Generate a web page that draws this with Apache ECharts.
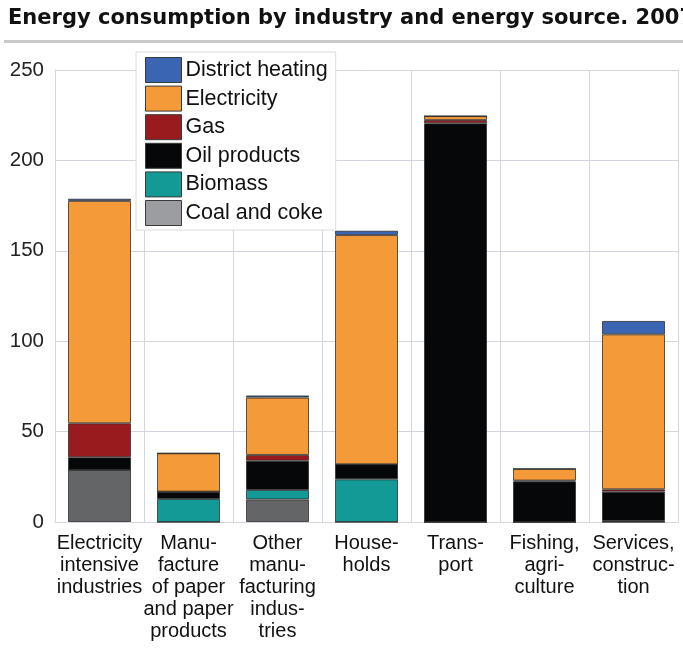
<!DOCTYPE html>
<html>
<head>
<meta charset="utf-8">
<style>
  html, body { margin: 0; padding: 0; background: #fff; }
  #chart { width: 683px; height: 648px; }
</style>
<script src="https://cdn.jsdelivr.net/npm/echarts@6/dist/echarts.min.js"></script>
</head>
<body>
<div id="chart"></div>
<script>
// Energy consumption by industry and energy source, 2007 (stacked, bottom to top)
const categories = [
  'Electricity\nintensive\nindustries',
  'Manu-\nfacture\nof paper\nand paper\nproducts',
  'Other\nmanu-\nfacturing\nindus-\ntries',
  'House-\nholds',
  'Trans-\nport',
  'Fishing,\nagri-\nculture',
  'Services,\nconstruc-\ntion'
];
const coalAndCoke     = [28.8, 0,    12.5, 0,     0,     0,    0];
const biomass         = [0,    12.7, 5.2,  23.6,  0,     0,    0.6];
const oilProducts     = [7.0,  4.1,  16.2, 8.3,   220.5, 22.4, 16.2];
const gas             = [18.8, 0,    3.2,  0,     1.8,   0.5,  1.3];
const electricity     = [123.0, 21.2, 31.7, 126.8, 2.2,  6.5,  85.7];
const districtHeating = [1.2,  0,    1.2,  2.4,   0,     0,    7.4];
const yTicks = [0, 50, 100, 150, 200, 250];

const FONT = '"Liberation Sans", Arial, sans-serif';
const TITLE_FONT = '"DejaVu Sans", "Liberation Sans", Arial, sans-serif';

const seriesDefs = [
  { name: 'Coal and coke',    data: coalAndCoke,     color: '#646567', legendColor: '#9c9da0' },
  { name: 'Biomass',          data: biomass,         color: '#139a97' },
  { name: 'Oil products',     data: oilProducts,     color: '#050708' },
  { name: 'Gas',              data: gas,             color: '#9a1b1e' },
  { name: 'Electricity',      data: electricity,     color: '#f59a38' },
  { name: 'District heating', data: districtHeating, color: '#3a65b3' }
];

const chart = echarts.init(document.getElementById('chart'), null, { renderer: 'canvas' });

chart.setOption({
  animation: false,
  backgroundColor: '#ffffff',
  title: {
    text: 'Energy consumption by industry and energy source. 2007',
    left: 3,
    top: 3,
    textStyle: { fontFamily: TITLE_FONT, fontSize: 21, fontWeight: 'bold', color: '#111' }
  },
  graphic: [{
    type: 'rect',
    left: 4,
    top: 40,
    shape: { width: 679, height: 3 },
    style: { fill: '#c9c9c9' },
    silent: true
  }],
  grid: { left: 55, right: 5, top: 70, bottom: 126, containLabel: false },
  legend: {
    orient: 'vertical',
    left: 136,
    top: 52,
    padding: [5, 8, 4, 9],
    backgroundColor: '#ffffff',
    borderColor: '#dcdcdc',
    borderWidth: 1,
    icon: 'rect',
    itemWidth: 36,
    itemHeight: 25,
    itemGap: 2.6,
    z: 10,
    textStyle: { fontFamily: FONT, fontSize: 21.5, color: '#111', padding: [0, 0, 0, -1] },
    data: seriesDefs.slice().reverse().map(s => ({
      name: s.name,
      itemStyle: { color: s.legendColor || s.color, borderColor: '#3a3a3a', borderWidth: 1 }
    }))
  },
  xAxis: {
    type: 'category',
    data: categories,
    boundaryGap: true,
    axisLine: { show: true, lineStyle: { color: '#d3d6de', width: 1 } },
    axisTick: { show: false },
    splitLine: { show: true, lineStyle: { color: '#d3d6de', width: 1 } },
    axisLabel: {
      interval: 0,
      margin: 10,
      fontFamily: FONT,
      fontSize: 20,
      lineHeight: 22,
      color: '#111',
      align: 'center'
    }
  },
  yAxis: {
    type: 'value',
    min: 0,
    max: yTicks[yTicks.length - 1],
    interval: yTicks[1] - yTicks[0],
    axisLine: { show: true, lineStyle: { color: '#d3d6de', width: 1 } },
    axisTick: { show: false },
    splitLine: { show: true, lineStyle: { color: '#d3d6de', width: 1 } },
    axisLabel: {
      margin: 11,
      fontFamily: FONT,
      fontSize: 20.5,
      color: '#222'
    }
  },
  series: seriesDefs.map(s => ({
    name: s.name,
    type: 'bar',
    stack: 'total',
    barWidth: 63,
    data: s.data,
    itemStyle: { color: s.color, borderColor: 'rgba(40,40,40,0.75)', borderWidth: 1 },
    emphasis: { disabled: true }
  }))
});
</script>
</body>
</html>
